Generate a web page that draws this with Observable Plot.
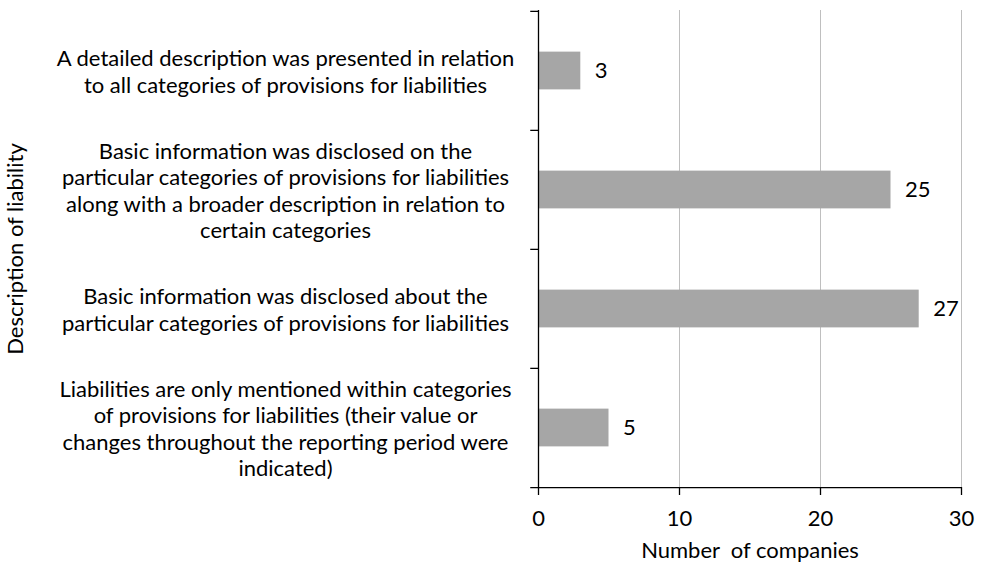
<!DOCTYPE html>
<html>
<head>
<meta charset="utf-8">
<script src="https://cdn.jsdelivr.net/npm/d3@7"></script>
<script src="https://cdn.jsdelivr.net/npm/@observablehq/plot@0.6"></script>
<style>
  html, body { margin: 0; padding: 0; background: #fff; }
  svg { font-family: Lato, "Open Sans", sans-serif; }
</style>
</head>
<body>
<div id="chart"></div>
<script>
const categories = [
  "A detailed description was presented in relation\nto all categories of provisions for liabilities",
  "Basic information was disclosed on the\nparticular categories of provisions for liabilities\nalong with a broader description in relation to\ncertain categories",
  "Basic information was disclosed about the\nparticular categories of provisions for liabilities",
  "Liabilities are only mentioned within categories\nof provisions for liabilities (their value or\nchanges throughout the reporting period were\nindicated)"
];
const values = [3, 25, 27, 5];
const xTicks = [0, 10, 20, 30];
const gridTicks = [10, 20, 30];
const xTitle = "Number\u00a0 of companies";
const yTitle = "Description of liability";

const data = categories.map((c, i) => ({category: c, value: values[i]}));

const W = 982, H = 563;
const mTop = 10, mBottom = 76, mLeft = 538, mRight = 21;
const step = (H - mTop - mBottom) / categories.length;
const barH = 38;
const inset = (step - barH) / 2;
const FS = 22;

const chart = Plot.plot({
  width: W,
  height: H,
  marginTop: mTop,
  marginBottom: mBottom,
  marginLeft: mLeft,
  marginRight: mRight,
  style: {fontSize: FS + "px", fontFamily: "Lato, 'Open Sans', sans-serif", color: "#000", background: "#fff"},
  x: {domain: [0, 30]},
  y: {domain: categories, padding: 0},
  marks: [
    Plot.ruleX(gridTicks, {stroke: "#bfbfbf", strokeWidth: 1}),
    Plot.barX(data, {y: "category", x: "value", fill: "#a6a6a6", insetTop: inset, insetBottom: inset}),
    Plot.text(data, {y: "category", x: "value", text: d => String(d.value), textAnchor: "start", dx: 14, fontSize: FS, fill: "#000"}),
    Plot.ruleX([0], {stroke: "#000", strokeWidth: 1.3}),
    Plot.ruleY(categories, {y: d => d, dy: -step / 2, x1: -0.55, x2: 0, stroke: "#000", strokeWidth: 1.3}),
    Plot.ruleY([categories[categories.length - 1]], {y: d => d, dy: step / 2, x1: -0.55, x2: 30, stroke: "#000", strokeWidth: 1.3}),
    Plot.axisX(xTicks, {tickSize: 8, tickPadding: 15, stroke: "#000", strokeWidth: 1.3, label: null, fontSize: FS}),
    Plot.axisY({tickSize: 0, tickPadding: 0, textAnchor: "middle", dx: -253, lineHeight: 1.2, label: null, fontSize: FS}),
    Plot.axisY({ticks: [], tickSize: 0, label: yTitle, labelAnchor: "center", labelArrow: "none", labelOffset: 531, fontSize: FS}),
    Plot.text([xTitle], {frameAnchor: "bottom", dy: 70, fontSize: FS, fill: "#000"})
  ]
});
document.getElementById("chart").appendChild(chart);
</script>
</body>
</html>
